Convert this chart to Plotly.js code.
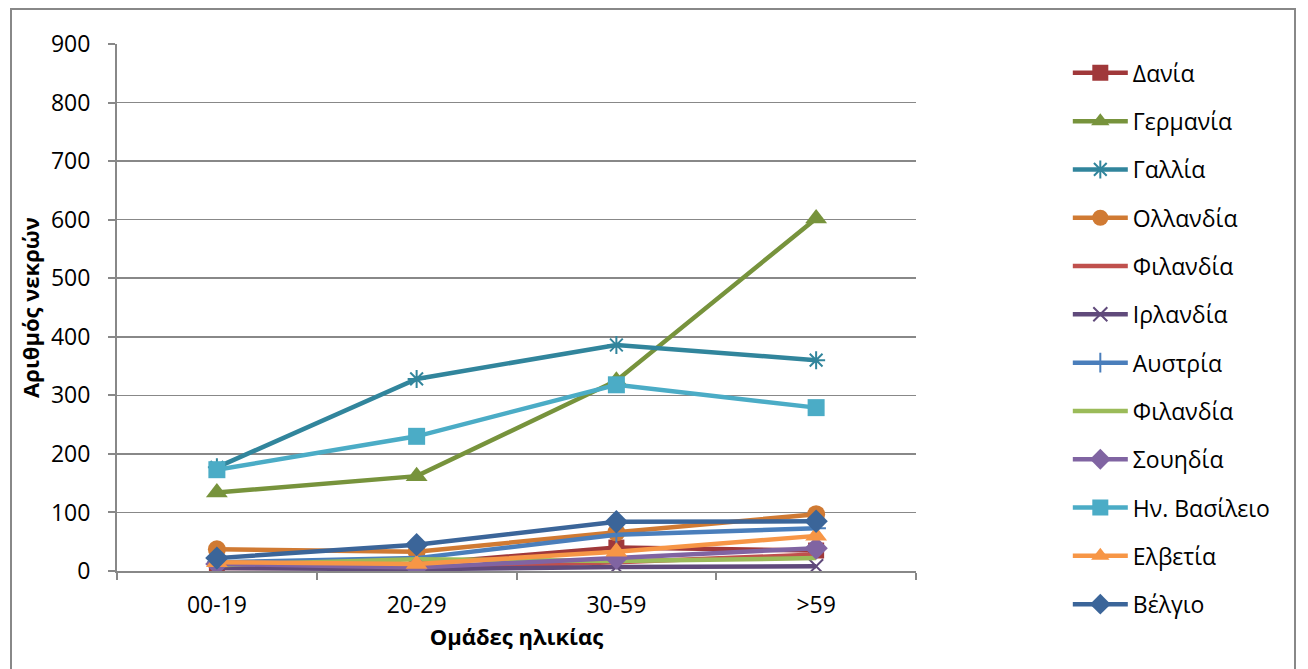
<!DOCTYPE html>
<html>
<head>
<meta charset="utf-8">
<script src="https://cdn.plot.ly/plotly-3.0.1.min.js"></script>
<style>
html,body{margin:0;padding:0;background:#fff;overflow:hidden;}
#chart{width:1308px;height:669px;}
#frame{position:absolute;left:10px;top:8px;width:1286px;height:700px;border:2px solid #888;pointer-events:none;box-sizing:border-box;}
</style>
</head>
<body>
<div id="chart"></div>
<div id="frame"></div>
<script>
var categories = ['00-19', '20-29', '30-59', '>59'];
var seriesNames = ['Δανία','Γερμανία','Γαλλία','Ολλανδία','Φιλανδία','Ιρλανδία','Αυστρία','Φιλανδία','Σουηδία','Ην. Βασίλειο','Ελβετία','Βέλγιο'];
var dania      = [8, 12, 40, 35];
var germania   = [134, 162, 325, 602];
var gallia     = [177, 328, 386, 360];
var ollandia   = [37, 33, 66, 97];
var filandia1  = [5, 5, 15, 28];
var irlandia   = [5, 3, 7, 8];
var austria    = [15, 22, 62, 73];
var filandia2  = [10, 20, 17, 22];
var souidia    = [12, 6, 22, 39];
var hnvasileio = [173, 230, 318, 279];
var elvetia    = [15, 12, 33, 60];
var velgio     = [22, 45, 84, 85];
var yTicks = [0, 100, 200, 300, 400, 500, 600, 700, 800, 900];

var values = [dania, germania, gallia, ollandia, filandia1, irlandia, austria, filandia2, souidia, hnvasileio, elvetia, velgio];
var styles = [
  {c:'#A0383A', s:'square', sz:16},
  {c:'#77933C', s:'triangle-up', sz:19},
  {c:'#31859C', s:'asterisk-open', sz:15},
  {c:'#D07A33', s:'circle', sz:18},
  {c:'#C0504D', s:null},
  {c:'#604A7B', s:'x-thin-open', sz:14},
  {c:'#4A7EBB', s:'cross-thin-open', sz:14},
  {c:'#9BBB59', s:null},
  {c:'#8064A2', s:'diamond', sz:18},
  {c:'#4BACC6', s:'square', sz:17},
  {c:'#F79646', s:'triangle-up', sz:19},
  {c:'#3B6599', s:'diamond', sz:18}
];

var traces = values.map(function(v, i){
  var st = styles[i];
  var t = {
    x: categories, y: v, name: seriesNames[i], type: 'scatter',
    legendgroup: 'g' + i,
    line: {color: st.c, width: 4.5},
    mode: st.s ? 'lines+markers' : 'lines'
  };
  if (st.s) t.marker = {symbol: st.s, size: st.sz, color: st.c, line: {color: st.c, width: st.s.indexOf('open') >= 0 ? 2 : 0}};
  return t;
});

var layout = {
  width: 1308, height: 669,
  margin: {l: 117, r: 392, t: 44, b: 98},
  paper_bgcolor: '#fff', plot_bgcolor: '#fff',
  font: {family: 'Open Sans, sans-serif', size: 23, color: '#000'},
  showlegend: true,
  legend: {
    x: 1.19, xanchor: 'left', y: 0.986, yanchor: 'top',
    traceorder: 'grouped', tracegroupgap: 15.4, maxheight: 660,
    font: {size: 23, color: '#000'}, itemwidth: 55
  },
  xaxis: {
    type: 'category', range: [-0.5, 3.5], tickson: 'boundaries',
    ticks: 'outside', ticklen: 7, tickcolor: '#888', tickwidth: 2,
    showline: true, linecolor: '#888', linewidth: 2, showgrid: false,
    tickfont: {size: 23}, fixedrange: true, ticklabelstandoff: 12,
    title: {text: 'Ομάδες ηλικίας', font: {size: 22, weight: 'bold'}, standoff: 11}
  },
  yaxis: {
    range: [0, 900], tickvals: yTicks, ticktext: yTicks.map(String),
    ticks: 'outside', ticklen: 7, tickcolor: '#888', tickwidth: 2,
    showline: true, linecolor: '#888', linewidth: 2,
    showgrid: true, gridcolor: '#888', gridwidth: 1.5, zeroline: false,
    tickfont: {size: 23}, fixedrange: true, ticklabelstandoff: 13,
    title: {text: 'Αριθμός νεκρών', font: {size: 22, weight: 'bold'}, standoff: 5}
  }
};

Plotly.newPlot('chart', traces, layout, {displayModeBar: false, staticPlot: true});
</script>
</body>
</html>
